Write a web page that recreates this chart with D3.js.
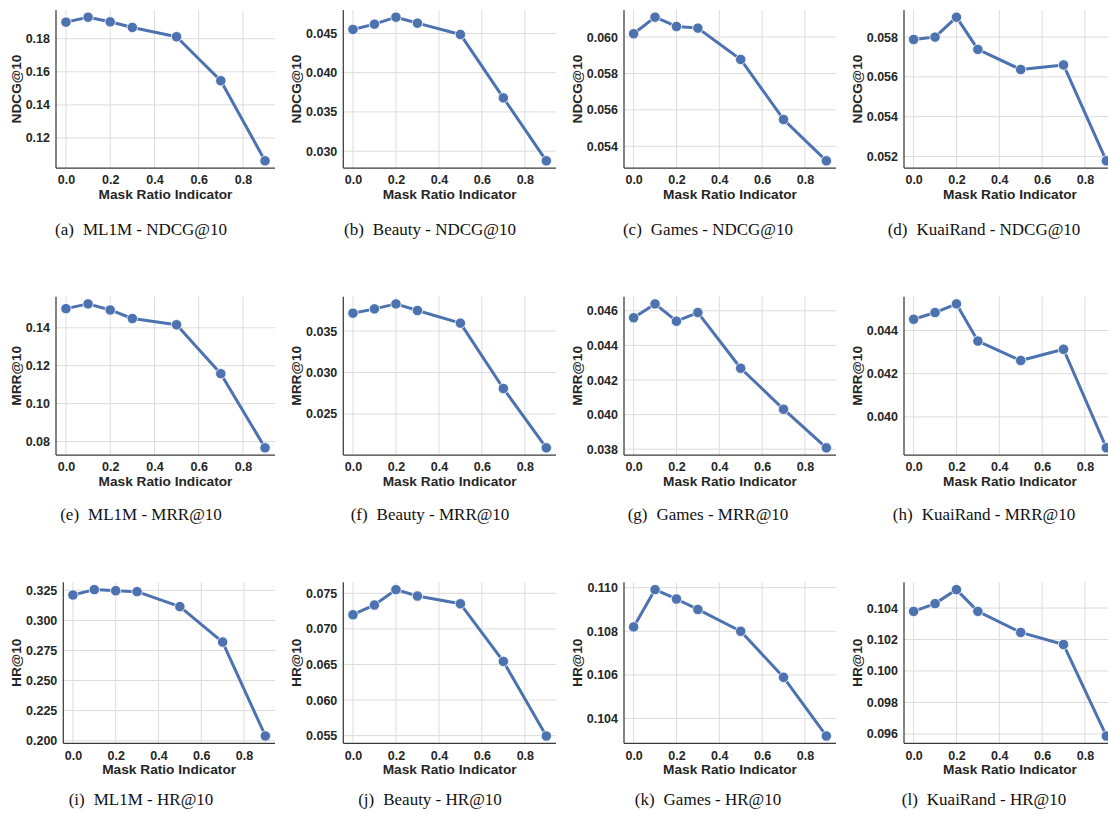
<!DOCTYPE html>
<html><head><meta charset="utf-8">
<script src="https://cdn.jsdelivr.net/npm/d3@7"></script>
<style>body{margin:0;background:#fff} svg{display:block}</style>
</head><body>
<svg id="chart" width="1108" height="813"></svg>
<script>
// ---------- data ----------
const maskRatios = [0, 0.1, 0.2, 0.3, 0.5, 0.7, 0.9];
const xTickValues = [0, 0.2, 0.4, 0.6, 0.8];
const datasets = ["ML1M", "Beauty", "Games", "KuaiRand"];
const metrics = ["NDCG@10", "MRR@10", "HR@10"];
const panelLetters = ["a","b","c","d","e","f","g","h","i","j","k","l"];

const ml1mNDCG   = [0.1900, 0.1930, 0.1902, 0.1868, 0.1812, 0.1546, 0.1062];
const beautyNDCG = [0.04551, 0.04618, 0.04707, 0.04631, 0.04487, 0.03679, 0.02877];
const gamesNDCG  = [0.06018, 0.06109, 0.06058, 0.06049, 0.05877, 0.05547, 0.05320];
const kuaiNDCG   = [0.05788, 0.05800, 0.05900, 0.05738, 0.05637, 0.05660, 0.05178];

const ml1mMRR    = [0.1501, 0.1526, 0.1494, 0.1449, 0.1416, 0.1158, 0.0767];
const beautyMRR  = [0.03716, 0.03768, 0.03828, 0.03748, 0.03596, 0.02808, 0.02092];
const gamesMRR   = [0.04560, 0.04640, 0.04540, 0.04590, 0.04268, 0.04031, 0.03808];
const kuaiMRR    = [0.04452, 0.04483, 0.04523, 0.04351, 0.04261, 0.04313, 0.03857];

const ml1mHR     = [0.3211, 0.3256, 0.3247, 0.3239, 0.3115, 0.2820, 0.2039];
const beautyHR   = [0.07199, 0.07336, 0.07552, 0.07462, 0.07353, 0.06543, 0.05495];
const gamesHR    = [0.10820, 0.10991, 0.10948, 0.10900, 0.10800, 0.10589, 0.10320];
const kuaiHR     = [0.10379, 0.10428, 0.10517, 0.10379, 0.10245, 0.10168, 0.09587];

// y tick labels per panel
const ml1mNDCGTicks   = ["0.12", "0.14", "0.16", "0.18"];
const beautyNDCGTicks = ["0.030", "0.035", "0.040", "0.045"];
const gamesNDCGTicks  = ["0.054", "0.056", "0.058", "0.060"];
const kuaiNDCGTicks   = ["0.052", "0.054", "0.056", "0.058"];
const ml1mMRRTicks    = ["0.08", "0.10", "0.12", "0.14"];
const beautyMRRTicks  = ["0.025", "0.030", "0.035"];
const gamesMRRTicks   = ["0.038", "0.040", "0.042", "0.044", "0.046"];
const kuaiMRRTicks    = ["0.040", "0.042", "0.044"];
const ml1mHRTicks     = ["0.200", "0.225", "0.250", "0.275", "0.300", "0.325"];
const beautyHRTicks   = ["0.055", "0.060", "0.065", "0.070", "0.075"];
const gamesHRTicks    = ["0.104", "0.106", "0.108", "0.110"];
const kuaiHRTicks     = ["0.096", "0.098", "0.100", "0.102", "0.104"];

const seriesGrid = [
  [ml1mNDCG, beautyNDCG, gamesNDCG, kuaiNDCG],
  [ml1mMRR, beautyMRR, gamesMRR, kuaiMRR],
  [ml1mHR, beautyHR, gamesHR, kuaiHR]
];
const tickGrid = [
  [ml1mNDCGTicks, beautyNDCGTicks, gamesNDCGTicks, kuaiNDCGTicks],
  [ml1mMRRTicks, beautyMRRTicks, gamesMRRTicks, kuaiMRRTicks],
  [ml1mHRTicks, beautyHRTicks, gamesHRTicks, kuaiHRTicks]
];

// ---------- layout ----------
const rowTop = [10, 296.7, 582.3];
const rowBottom = [168, 455, 743.3];
const colLeft = [[56, 343.3, 624, 904], [56, 343.3, 624, 904], [63.3, 343.3, 624, 904]];
const colRight = [275, 556, 836, 1116];
const captionX = [141, 430, 708, 984];
const captionY = [235, 520, 805];

const BLUE = "#4C72B0";
const sansFont = "'Liberation Sans', Arial, sans-serif";
const serifFont = "'Liberation Serif', 'Times New Roman', serif";

const svg = d3.select("#chart");

metrics.forEach((metric, r) => {
  datasets.forEach((ds, c) => {
    const values = seriesGrid[r][c];
    const tickLabels = tickGrid[r][c];
    const L = colLeft[r][c], R = colRight[c], T = rowTop[r], B = rowBottom[r];

    const x = d3.scaleLinear().domain([-0.045, 0.945]).range([L, R]);
    const ext = d3.extent(values);
    const pad = (ext[1] - ext[0]) * 0.05;
    const y = d3.scaleLinear().domain([ext[0] - pad, ext[1] + pad]).range([B, T]);

    const g = svg.append("g");

    // grid
    g.append("g").selectAll("line").data(xTickValues).join("line")
      .attr("x1", d => x(d)).attr("x2", d => x(d))
      .attr("y1", T).attr("y2", B)
      .attr("stroke", "#dcdcdc").attr("stroke-width", 1);
    g.append("g").selectAll("line").data(tickLabels).join("line")
      .attr("x1", L).attr("x2", R)
      .attr("y1", d => y(+d)).attr("y2", d => y(+d))
      .attr("stroke", "#dcdcdc").attr("stroke-width", 1);

    // axes (labels only)
    const xAxis = g.append("g").attr("transform", `translate(0,${B})`)
      .call(d3.axisBottom(x).tickValues(xTickValues).tickFormat(d3.format(".1f")).tickSize(0).tickPadding(7.5));
    const yAxis = g.append("g").attr("transform", `translate(${L},0)`)
      .call(d3.axisLeft(y).tickValues(tickLabels.map(Number)).tickFormat((d, j) => tickLabels[j]).tickSize(0).tickPadding(6));
    [xAxis, yAxis].forEach(a => {
      a.select(".domain").remove();
      a.selectAll("text").attr("font-family", sansFont).attr("font-size", 12.5)
        .attr("font-weight", "bold").attr("fill", "#262626");
    });

    // spines
    g.append("line").attr("x1", L).attr("x2", L).attr("y1", T).attr("y2", B)
      .attr("stroke", "#3a3a3a").attr("stroke-width", 1.25);
    g.append("line").attr("x1", L).attr("x2", R).attr("y1", B).attr("y2", B)
      .attr("stroke", "#3a3a3a").attr("stroke-width", 1.25);

    // line + markers
    const pts = maskRatios.map((m, j) => [m, values[j]]);
    g.append("path").datum(pts)
      .attr("d", d3.line().x(d => x(d[0])).y(d => y(d[1])))
      .attr("fill", "none").attr("stroke", BLUE).attr("stroke-width", 3)
      .attr("stroke-linejoin", "round").attr("stroke-linecap", "round");
    g.append("g").selectAll("circle").data(pts).join("circle")
      .attr("cx", d => x(d[0])).attr("cy", d => y(d[1])).attr("r", 5.2)
      .attr("fill", BLUE).attr("stroke", "#ffffff").attr("stroke-width", 0.8);

    // axis titles
    const yb = yAxis.node().getBBox();
    const ylx = L + yb.x - 5;
    g.append("text")
      .attr("transform", `translate(${ylx},${(T + B) / 2}) rotate(-90)`)
      .attr("text-anchor", "middle")
      .attr("font-family", sansFont).attr("font-size", 13.7).attr("font-weight", "bold")
      .attr("fill", "#262626").text(metric);
    g.append("text")
      .attr("x", (L + R) / 2).attr("y", B + 31)
      .attr("text-anchor", "middle")
      .attr("font-family", sansFont).attr("font-size", 13.7).attr("font-weight", "bold")
      .attr("fill", "#262626").text("Mask Ratio Indicator");

    // caption
    const cap = svg.append("text")
      .attr("x", captionX[c]).attr("y", captionY[r])
      .attr("text-anchor", "middle")
      .attr("font-family", serifFont).attr("font-size", 17).attr("fill", "#111");
    cap.append("tspan").text(`(${panelLetters[r * 4 + c]})`);
    cap.append("tspan").attr("dx", 9).text(`${ds} - ${metric}`);
  });
});
</script>
</body></html>
